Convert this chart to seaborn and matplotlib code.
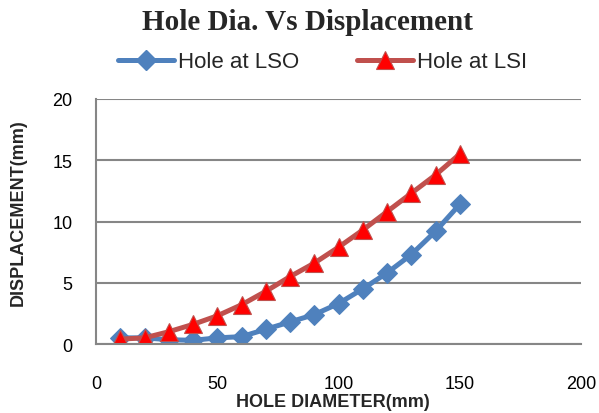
import matplotlib
matplotlib.use("Agg")
import matplotlib.pyplot as plt
import seaborn as sns
import pandas as pd
from matplotlib.lines import Line2D

hole_dia = [10, 20, 30, 40, 50, 60, 70, 80, 90, 100, 110, 120, 130, 140, 150]
lso = [0.5, 0.5, 0.35, 0.3, 0.5, 0.6, 1.2, 1.8, 2.4, 3.3, 4.5, 5.8, 7.3, 9.2, 11.4]
lsi = [0.4, 0.5, 1.0, 1.6, 2.3, 3.2, 4.3, 5.5, 6.6, 7.9, 9.3, 10.8, 12.3, 13.8, 15.5]
series_names = ["Hole at LSO", "Hole at LSI"]
x_ticks = [0, 50, 100, 150, 200]
y_ticks = [0, 5, 10, 15, 20]

df = pd.DataFrame({
    "x": hole_dia * 2,
    "y": lso + lsi,
    "series": [series_names[0]] * len(hole_dia) + [series_names[1]] * len(hole_dia),
})

sns.set_theme(style="white")
plt.rcParams["font.family"] = ["Liberation Sans", "DejaVu Sans"]

fig = plt.figure(figsize=(5.99, 4.14), dpi=100)
ax = fig.add_axes([96 / 599, 1 - 345 / 414, (581 - 96) / 599, (345 - 100) / 414])

blue = "#4F81BD"
red_line = "#C0504D"
lw = 3.6
d_size = 10.5
t_size = 13

sns.lineplot(data=df, x="x", y="y", hue="series", style="series",
             palette={series_names[0]: blue, series_names[1]: red_line},
             markers={series_names[0]: "D", series_names[1]: "^"},
             dashes=False, linewidth=lw, ax=ax, legend=False)

lines = ax.get_lines()
lines[0].set_markerfacecolor(blue)
lines[0].set_markeredgecolor(blue)
lines[0].set_markersize(d_size)
lines[1].set_markerfacecolor("#FF0000")
lines[1].set_markeredgecolor(red_line)
lines[1].set_markeredgewidth(0.8)
lines[1].set_markersize(t_size)

ax.set_xlim(0, 200)
ax.set_ylim(0, 20)
ax.set_xticks(x_ticks)
ax.set_yticks(y_ticks)
ax.tick_params(axis="x", length=0, pad=22, labelsize=13, colors="black")
ax.tick_params(axis="y", length=0, pad=17, labelsize=13, colors="black")
ax.yaxis.grid(True, color="#868686", linewidth=1.5)
ax.xaxis.grid(False)
for s in ["top", "right"]:
    ax.spines[s].set_visible(False)
for s in ["left", "bottom"]:
    ax.spines[s].set_color("#868686")
    ax.spines[s].set_linewidth(1.5)
ax.set_xlabel("")
ax.set_ylabel("")

fig.text(307 / 599, 1 - 23 / 414, "Hole Dia. Vs Displacement",
         ha="center", va="center", fontsize=21, fontweight="bold",
         family=["Liberation Serif", "DejaVu Serif"])
fig.text(333 / 599, 1 - 403 / 414, "HOLE DIAMETER(mm)", ha="center", va="center",
         fontsize=13, fontweight="bold")
fig.text(18 / 599, 1 - 213 / 414, "DISPLACEMENT(mm)", ha="center", va="center",
         fontsize=13, fontweight="bold", rotation=90)

handles = [
    Line2D([], [], color=blue, linewidth=lw, marker="D", markersize=d_size,
           markerfacecolor=blue, markeredgecolor=blue),
    Line2D([], [], color=red_line, linewidth=lw, marker="^", markersize=t_size,
           markerfacecolor="#FF0000", markeredgecolor=red_line, markeredgewidth=0.8),
]
fig.legend(handles, series_names, loc="center", bbox_to_anchor=(323 / 599, 1 - 63 / 414),
           ncol=2, frameon=False, fontsize=16, handlelength=2.5, handletextpad=0.2,
           columnspacing=2.6, borderpad=0)

fig.savefig("out.png", dpi=100)
